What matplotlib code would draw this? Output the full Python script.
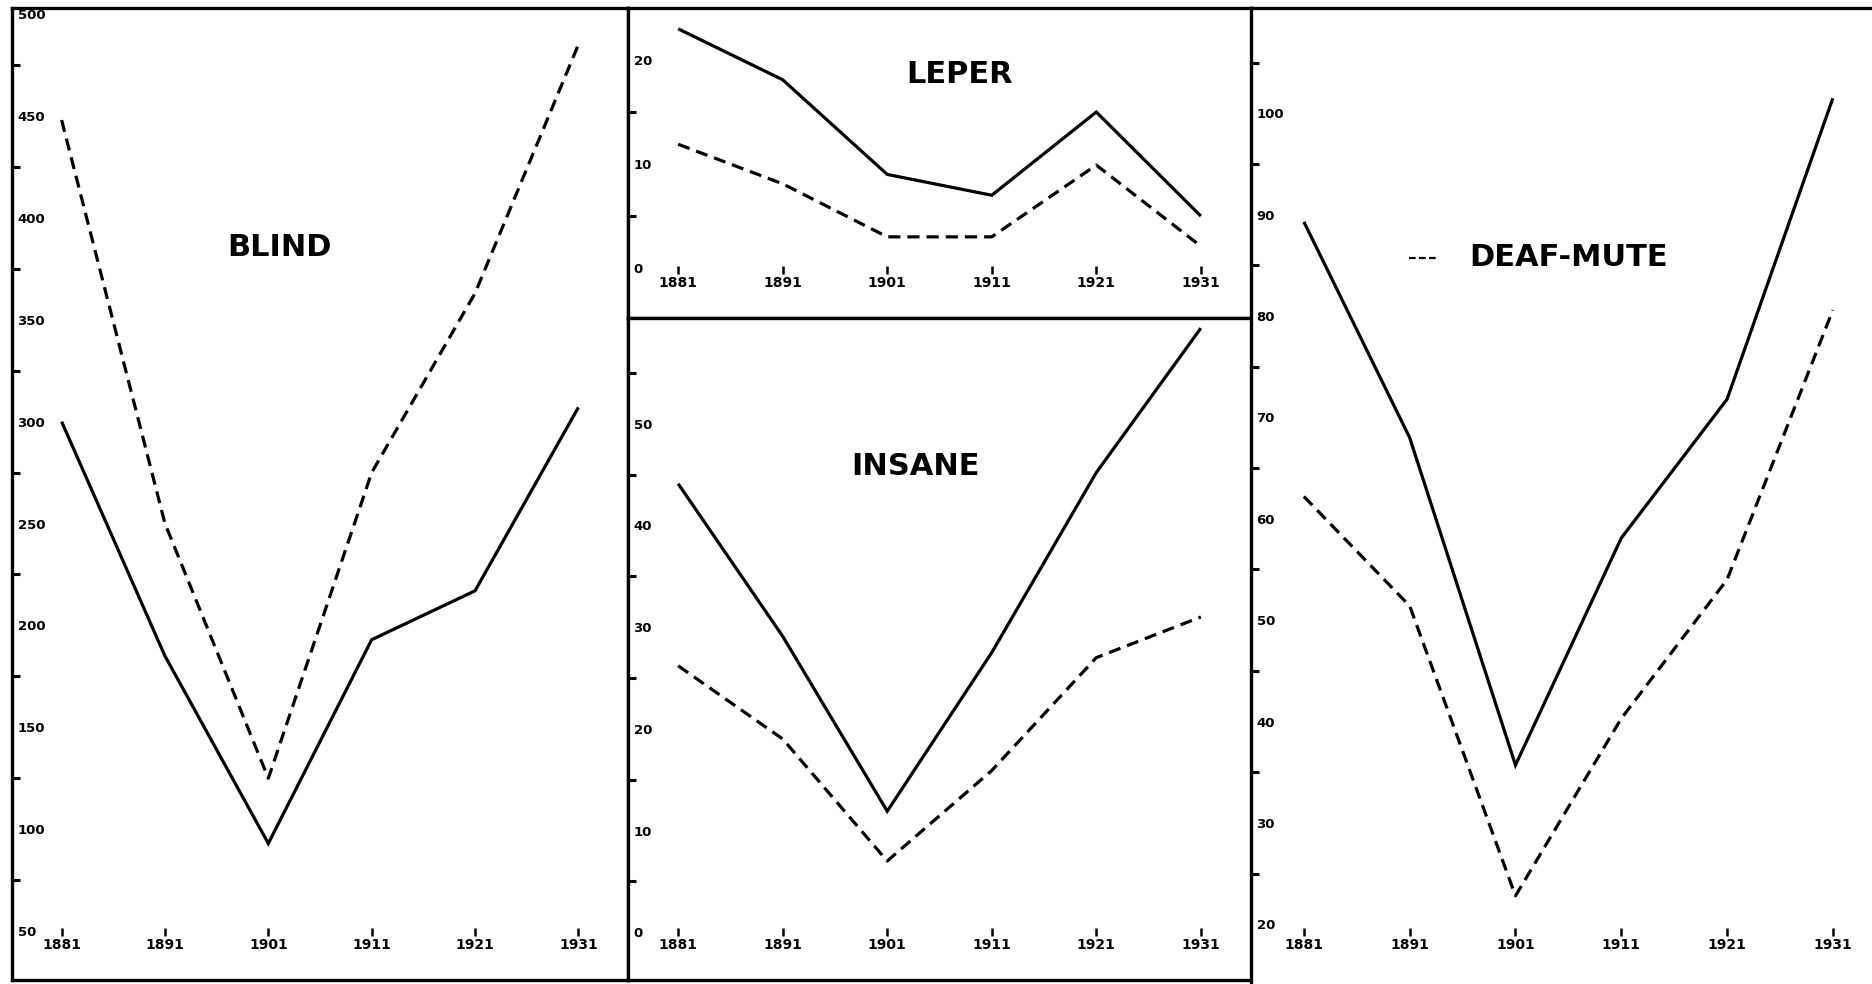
import matplotlib
matplotlib.use("Agg")
import matplotlib.pyplot as plt
from matplotlib.ticker import FixedLocator
from matplotlib.lines import Line2D

plt.rcParams['font.family'] = ['DejaVu Sans']

# ---------------- data ----------------
years = [1881, 1891, 1901, 1911, 1921, 1931]
year_labels = ["1881", "1891", "1901", "1911", "1921", "1931"]

blind_solid = [300, 185, 93, 193, 217, 307]
blind_dashed = [448, 250, 125, 275, 363, 485]

leper_solid = [23.0, 18.1, 9.0, 7.0, 15.0, 5.0]
leper_dashed = [11.9, 8.1, 3.0, 3.0, 9.9, 2.1]

insane_solid = [44.1, 29.1, 11.9, 27.5, 45.2, 59.4]
insane_dashed = [26.2, 19.0, 7.0, 15.9, 27.0, 31.0]

deaf_solid = [89.3, 68.0, 35.7, 58.1, 71.8, 101.5]
deaf_dashed = [62.2, 51.4, 22.8, 40.3, 54.0, 80.6]

blind_yticks = [50, 100, 150, 200, 250, 300, 350, 400, 450, 500]
blind_minor = [75, 125, 175, 225, 275, 325, 375, 425, 475]
leper_yticks = [0, 10, 20]
leper_minor = [5, 15]
insane_yticks = [0, 10, 20, 30, 40, 50]
insane_minor = [5, 15, 25, 35, 45, 55]
deaf_yticks = [20, 30, 40, 50, 60, 70, 80, 90, 100]
deaf_minor = [25, 35, 45, 55, 65, 75, 85, 95, 105]

# ---------------- layout ----------------
W, H = 1872, 984
DPI = 100
fig = plt.figure(figsize=(W / DPI, H / DPI), dpi=DPI)
fig.patch.set_facecolor("white")


def rect(x0, y0, x1, y1):
    return [x0 / W, 1 - y1 / H, (x1 - x0) / W, (y1 - y0) / H]


LW = 2.3
DASH = (3.8, 2.2)


def make_panel(r, ylim, yticks, yminor, solid, dashed, title, tpos,
               spines=("left", "right", "top", "bottom"), lab_up=36, mark=(44, 52),
               xlim=(1876.2, 1935.8)):
    ax = fig.add_axes(rect(*r))
    ax.set_xlim(*xlim)
    ax.set_ylim(*ylim)
    for s in ("left", "right", "top", "bottom"):
        ax.spines[s].set_visible(s in spines)
        ax.spines[s].set_linewidth(2.4)
        ax.spines[s].set_color("black")
    ax.plot(years, solid, color="black", lw=LW, solid_joinstyle="miter",
            solid_capstyle="butt")
    ax.plot(years, dashed, color="black", lw=LW, linestyle=(0, DASH),
            dash_capstyle="butt")

    # y ticks: labels inside, minor tick marks inward
    ax.yaxis.set_major_locator(FixedLocator(yticks))
    ax.yaxis.set_minor_locator(FixedLocator(yminor))
    ax.set_yticklabels([str(v) for v in yticks])
    ax.tick_params(axis="y", which="major", length=0, pad=-4,
                   labelsize=9.5)
    ax.tick_params(axis="y", which="minor", direction="in", length=6,
                   width=2.2, color="black")
    for lab in ax.get_yticklabels():
        lab.set_horizontalalignment("left")
        lab.set_fontweight("bold")

    # x ticks: labels inside near the bottom
    hpx = (r[3] - r[1])
    ax.set_xticks(years)
    ax.set_xticklabels(year_labels)
    ax.tick_params(axis="x", which="major", length=0,
                   pad=-(lab_up + 6) * 72 / DPI, labelsize=10)
    for lab in ax.get_xticklabels():
        lab.set_fontweight("bold")
    # small marks above year labels
    ax.vlines(years, mark[0] / hpx, mark[1] / hpx, colors="black", lw=1.8,
              transform=ax.get_xaxis_transform())

    ax.text(tpos[0], tpos[1], title, transform=ax.transAxes, ha="center",
            va="center", fontsize=22, fontweight="bold")
    return ax


ax_b = make_panel((12, 8, 628, 980), (26, 503), blind_yticks, blind_minor,
                  blind_solid, blind_dashed, "BLIND", (0.434, 0.754))
ax_l = make_panel((628, 8, 1251, 318), (-4.8, 25.0), leper_yticks, leper_minor,
                  leper_solid, leper_dashed, "LEPER", (0.532, 0.787),
                  spines=("left", "top", "bottom"))
ax_i = make_panel((628, 318, 1251, 980), (-4.7, 60.4), insane_yticks, insane_minor,
                  insane_solid, insane_dashed, "INSANE", (0.461, 0.776),
                  spines=("left", "top", "bottom"))
ax_d = make_panel((1251, 8, 1872, 984), (14.1, 110.4), deaf_yticks, deaf_minor,
                  deaf_solid, deaf_dashed, "DEAF-MUTE", (0.512, 0.744),
                  spines=("left", "top"), lab_up=40, mark=(48, 56),
                  xlim=(1876.0, 1934.7))

# small key mark before DEAF-MUTE
ax_d.add_line(Line2D([0.254, 0.298], [0.744, 0.744], transform=ax_d.transAxes,
                     color="black", lw=1.6, linestyle=(0, (3, 1.5))))

fig.savefig("out.png", dpi=DPI, facecolor="white")
